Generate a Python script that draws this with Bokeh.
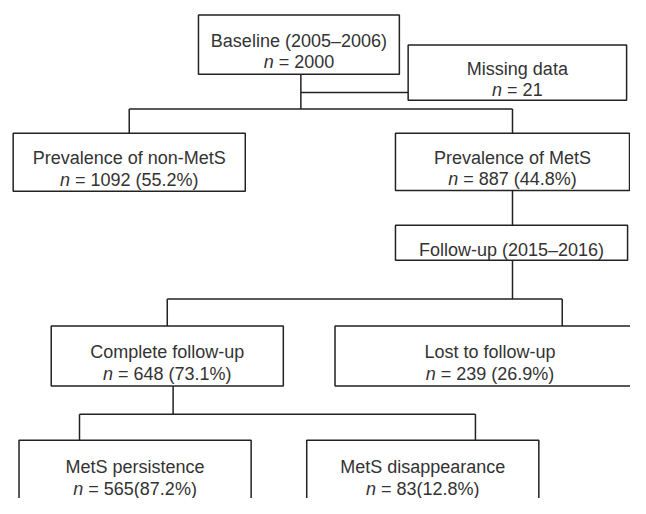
from bokeh.plotting import figure
from bokeh.models import Range1d, ColumnDataSource
from bokeh.embed import file_html
from bokeh.resources import INLINE
from bokeh.core.properties import value

# ---- data ----
titles = ["Baseline (2005–2006)", "Missing data", "Prevalence of non-MetS",
          "Prevalence of MetS", "Follow-up (2015–2016)", "Complete follow-up",
          "Lost to follow-up", "MetS persistence", "MetS disappearance"]
n_values = [2000, 21, 1092, 887, None, 648, 239, 565, 83]
pct_values = [None, None, 55.2, 44.8, None, 73.1, 26.9, 87.2, 12.8]
pct_sep = ["", "", " ", " ", "", " ", " ", "", ""]

# ---- layout (reference pixel coordinates) ----
box_left = [203, 418, 13, 405, 405, 52, 343, 19, 314]
box_right = [409, 642, 251, 645, 643, 290, 661, 257, 552]
box_top = [15, 46, 137, 137, 232, 336, 336, 454, 454]
box_bottom = [76, 103, 197, 196, 268, 398, 398, 520, 520]

seg_x0 = [308, 308, 132, 132, 525, 525, 525, 171, 171, 576, 177, 81, 81, 487]
seg_y0 = [76, 95, 112, 112, 112, 196, 268, 308, 308, 308, 398, 427, 427, 427]
seg_x1 = [308, 418, 525, 132, 525, 525, 525, 576, 171, 576, 177, 487, 81, 487]
seg_y1 = [112, 95, 112, 137, 137, 232, 308, 308, 336, 336, 427, 427, 454, 454]

FONT = "Liberation Sans"
FPX = 18
LINE_COLOR = "#222222"
TEXT_COLOR = "#333333"
NBSP = "\u00a0"

WID = {' ': .278, NBSP: .278, '=': .584, '(': .333, ')': .333, '.': .278, '%': .889, 'n': .556}
for d in "0123456789":
    WID[d] = .556


def tw(s):
    return sum(WID.get(c, .556) for c in s) * FPX


p = figure(width=630, height=498, output_backend="svg", toolbar_location=None,
           x_range=Range1d(0, 646), y_range=Range1d(514, 0),
           min_border=0, outline_line_color=None, background_fill_color="white")
p.axis.visible = False
p.grid.visible = False

p.segment(x0=seg_x0, y0=seg_y0, x1=seg_x1, y1=seg_y1,
          line_color=LINE_COLOR, line_width=1.5)

p.quad(left=box_left, right=box_right, top=box_top, bottom=box_bottom,
       fill_color="white", line_color=LINE_COLOR, line_width=1.5)

t1x, t1y, t1 = [], [], []
nx, ny, noff = [], [], []
rx, ry, roff, rtxt = [], [], [], []
for i, title in enumerate(titles):
    cx = (box_left[i] + box_right[i]) / 2
    if i == 6:
        cx = 502
    cy = (box_top[i] + box_bottom[i]) / 2
    if i >= 7:
        cy = box_top[i] + 32
    if n_values[i] is None:
        t1x.append(cx); t1y.append(cy + 7); t1.append(title)
        continue
    t1x.append(cx); t1y.append(cy - 4); t1.append(title)
    rest = f"{NBSP}={NBSP}{n_values[i]}"
    if pct_values[i] is not None:
        rest += f"{pct_sep[i]}({pct_values[i]}%)"
    W = tw("n") + tw(rest)
    nx.append(cx); ny.append(cy + 18); noff.append(-W / 2)
    rx.append(cx); ry.append(cy + 18); roff.append(-W / 2 + tw("n")); rtxt.append(rest)

p.text(x=t1x, y=t1y, text=t1, text_font=value(FONT), text_font_size=f"{FPX}px",
       text_color=TEXT_COLOR, text_align="center", text_baseline="alphabetic")

src_n = ColumnDataSource(dict(x=nx, y=ny, off=noff, t=["n"] * len(nx)))
p.text(x="x", y="y", text="t", x_offset="off", source=src_n,
       text_font=value(FONT), text_font_size=f"{FPX}px", text_font_style="italic",
       text_color=TEXT_COLOR, text_align="left", text_baseline="alphabetic")

src_r = ColumnDataSource(dict(x=rx, y=ry, off=roff, t=rtxt))
p.text(x="x", y="y", text="t", x_offset="off", source=src_r,
       text_font=value(FONT), text_font_size=f"{FPX}px",
       text_color=TEXT_COLOR, text_align="left", text_baseline="alphabetic")

open("out.html", "w").write(file_html(p, INLINE))
